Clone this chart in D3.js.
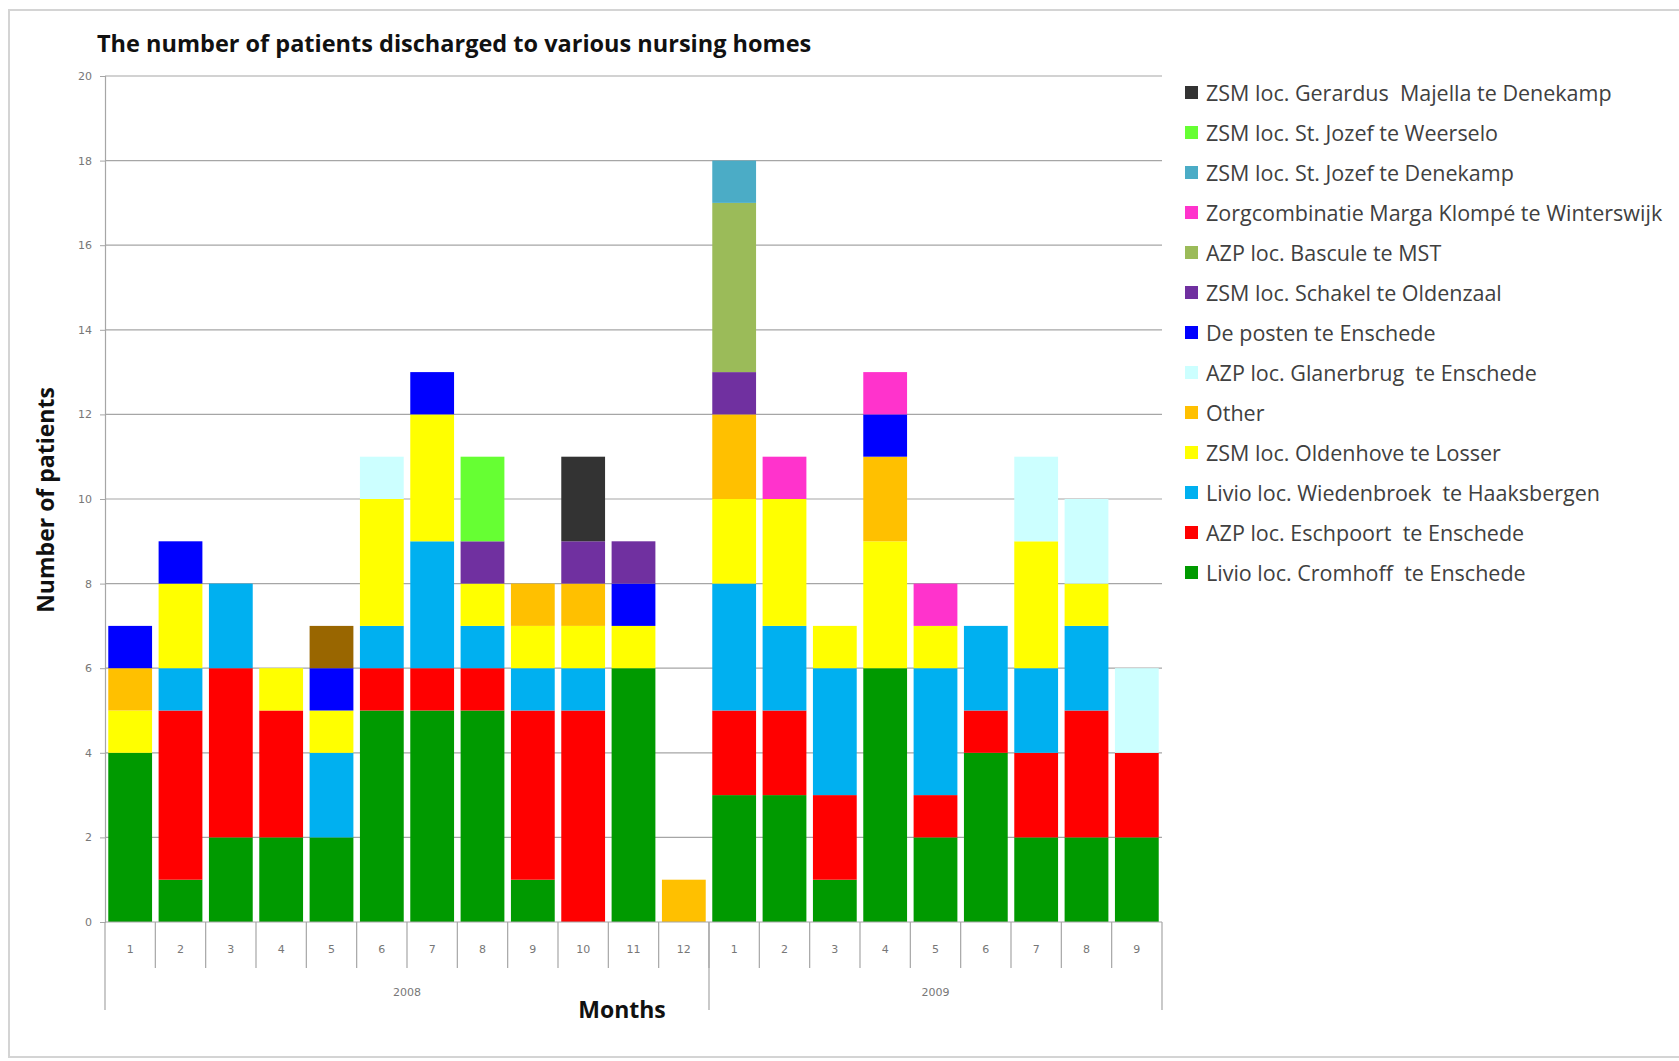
<!DOCTYPE html>
<html>
<head>
<meta charset="utf-8">
<script src="https://cdn.jsdelivr.net/npm/d3@7"></script>
<style>
  body { margin: 0; background: #fff; }
  text { font-family: "Open Sans", Lato, sans-serif; }
</style>
</head>
<body>
<div id="chart"></div>
<script>
// categories (months, grouped by year)
const years = ["2008", "2009"]
const months2008 = ["1","2","3","4","5","6","7","8","9","10","11","12"]
const months2009 = ["1","2","3","4","5","6","7","8","9"]

// series, bottom of the stack first
const seriesNames = [
  "Livio loc. Cromhoff  te Enschede",
  "AZP loc. Eschpoort  te Enschede",
  "Livio loc. Wiedenbroek  te Haaksbergen",
  "ZSM loc. Oldenhove te Losser",
  "Other",
  "AZP loc. Glanerbrug  te Enschede",
  "De posten te Enschede",
  "ZSM loc. Schakel te Oldenzaal",
  "AZP loc. Bascule te MST",
  "Zorgcombinatie Marga Klompé te Winterswijk",
  "ZSM loc. St. Jozef te Denekamp",
  "ZSM loc. St. Jozef te Weerselo",
  "ZSM loc. Gerardus  Majella te Denekamp",
  ""   // unlabelled series (not in legend)
]
const seriesColors = ["#009a00", "#ff0000", "#00b0f0", "#ffff00", "#ffc000", "#ccffff",
  "#0000ff", "#7030a0", "#9bbb59", "#ff33cc", "#4bacc6", "#66ff33", "#333333", "#996600"]

// values per series, 2008 months 1-12 then 2009 months 1-9
const cromhoff    = [4,1,2,2,2,5,5,5,1,0,6,0, 3,3,1,6,2,4,2,2,2]
const eschpoort   = [0,4,4,3,0,1,1,1,4,5,0,0, 2,2,2,0,1,1,2,3,2]
const wiedenbroek = [0,1,2,0,2,1,3,1,1,1,0,0, 3,2,3,0,3,2,2,2,0]
const oldenhove   = [1,2,0,1,1,3,3,1,1,1,1,0, 2,3,1,3,1,0,3,1,0]
const other       = [1,0,0,0,0,0,0,0,1,1,0,1, 2,0,0,2,0,0,0,0,0]
const glanerbrug  = [0,0,0,0,0,1,0,0,0,0,0,0, 0,0,0,0,0,0,2,2,2]
const deposten    = [1,1,0,0,1,0,1,0,0,0,1,0, 0,0,0,1,0,0,0,0,0]
const schakel     = [0,0,0,0,0,0,0,1,0,1,1,0, 1,0,0,0,0,0,0,0,0]
const bascule     = [0,0,0,0,0,0,0,0,0,0,0,0, 4,0,0,0,0,0,0,0,0]
const marga       = [0,0,0,0,0,0,0,0,0,0,0,0, 0,1,0,1,1,0,0,0,0]
const jozefDk     = [0,0,0,0,0,0,0,0,0,0,0,0, 1,0,0,0,0,0,0,0,0]
const jozefWs     = [0,0,0,0,0,0,0,2,0,0,0,0, 0,0,0,0,0,0,0,0,0]
const gerardus    = [0,0,0,0,0,0,0,0,0,2,0,0, 0,0,0,0,0,0,0,0,0]
const unlabelled  = [0,0,0,0,1,0,0,0,0,0,0,0, 0,0,0,0,0,0,0,0,0]

const yTicks = [0,2,4,6,8,10,12,14,16,18,20]

const seriesValues = [cromhoff, eschpoort, wiedenbroek, oldenhove, other, glanerbrug,
  deposten, schakel, bascule, marga, jozefDk, jozefWs, gerardus, unlabelled]

const W = 1679, H = 1061
const plot = { left: 105, right: 1162, top: 76, bottom: 922 }

const cats = months2008.map(m => "2008-" + m).concat(months2009.map(m => "2009-" + m))
const table = cats.map((c, i) => {
  const row = { cat: c }
  seriesValues.forEach((s, j) => { row["s" + j] = s[i] })
  return row
})
const keys = seriesValues.map((s, j) => "s" + j)

const svg = d3.select("#chart").append("svg")
  .attr("width", W).attr("height", H)

// outer frame
svg.append("rect")
  .attr("x", 9).attr("y", 10).attr("width", W + 20).attr("height", 1047)
  .attr("fill", "#fff").attr("stroke", "#d4d4d4").attr("stroke-width", 2)

const x = d3.scaleBand().domain(cats).range([plot.left, plot.right])
  .paddingInner(0.13).paddingOuter(0.065)
const y = d3.scaleLinear().domain([0, 20]).range([plot.bottom, plot.top])
const color = d3.scaleOrdinal().domain(keys).range(seriesColors)

// gridlines
svg.append("g").selectAll("line").data(yTicks.filter(t => t > 0))
  .enter().append("line")
  .attr("x1", plot.left).attr("x2", plot.right)
  .attr("y1", d => y(d)).attr("y2", d => y(d))
  .attr("stroke", "#a6a6a6").attr("stroke-width", 1.2)

// y axis
const yAxis = svg.append("g")
  .attr("transform", "translate(" + plot.left + ",0)")
  .call(d3.axisLeft(y).tickValues(yTicks).tickSize(5).tickPadding(8))
yAxis.select(".domain").attr("stroke", "#a6a6a6").attr("stroke-width", 1.2)
yAxis.selectAll(".tick line").attr("stroke", "#a6a6a6")
yAxis.selectAll("text").attr("fill", "#777").style("font-size", "11px")
  .style("font-family", "'DejaVu Sans'")

// stacked bars
const stack = d3.stack().keys(keys)(table)
svg.append("g").selectAll("g").data(stack)
  .enter().append("g")
    .attr("fill", d => color(d.key))
  .selectAll("rect").data(d => d.filter(p => p[1] > p[0]))
  .enter().append("rect")
    .attr("x", d => x(d.data.cat))
    .attr("width", x.bandwidth())
    .attr("y", d => y(d[1]))
    .attr("height", d => y(d[0]) - y(d[1]))

// x axis: month row and year row
const step = x.step()
const catLeft = i => plot.left + i * step
const xg = svg.append("g")
xg.append("line")
  .attr("x1", plot.left).attr("x2", plot.right)
  .attr("y1", plot.bottom).attr("y2", plot.bottom)
  .attr("stroke", "#a6a6a6").attr("stroke-width", 1.2)
xg.selectAll(".mdiv").data(d3.range(1, cats.length))
  .enter().append("line")
  .attr("x1", catLeft).attr("x2", catLeft)
  .attr("y1", plot.bottom).attr("y2", plot.bottom + 46)
  .attr("stroke", "#a6a6a6").attr("stroke-width", 1.2)
xg.selectAll(".mlab").data(cats)
  .enter().append("text")
  .attr("x", d => x(d) + x.bandwidth() / 2)
  .attr("y", plot.bottom + 31)
  .attr("text-anchor", "middle")
  .attr("fill", "#777").style("font-size", "11px").style("font-family", "'DejaVu Sans'")
  .text(d => d.split("-")[1])

const groups = [
  { year: years[0], from: 0, to: months2008.length },
  { year: years[1], from: months2008.length, to: cats.length }
]
xg.selectAll(".ydiv").data([0, months2008.length, cats.length])
  .enter().append("line")
  .attr("x1", catLeft).attr("x2", catLeft)
  .attr("y1", plot.bottom).attr("y2", plot.bottom + 88)
  .attr("stroke", "#a6a6a6").attr("stroke-width", 1.2)
xg.selectAll(".ylab").data(groups)
  .enter().append("text")
  .attr("x", d => (catLeft(d.from) + catLeft(d.to)) / 2)
  .attr("y", plot.bottom + 74)
  .attr("text-anchor", "middle")
  .attr("fill", "#777").style("font-size", "11px").style("font-family", "'DejaVu Sans'")
  .text(d => d.year)

// titles
svg.append("text")
  .attr("x", 97).attr("y", 52)
  .style("font-size", "23.5px").style("font-weight", "bold").attr("fill", "#111")
  .text("The number of patients discharged to various nursing homes")

svg.append("text")
  .attr("x", 622).attr("y", 1018)
  .attr("text-anchor", "middle")
  .style("font-size", "23px").style("font-weight", "bold").attr("fill", "#111")
  .text("Months")

svg.append("text")
  .attr("transform", "translate(54,500) rotate(-90)")
  .attr("text-anchor", "middle")
  .style("font-size", "23px").style("font-weight", "bold").attr("fill", "#111")
  .text("Number of patients")

// legend, reverse order of the stack, unlabelled series skipped
const legendItems = keys.map((k, j) => ({ key: k, name: seriesNames[j] }))
  .filter(d => d.name !== "").reverse()
const legend = svg.append("g").attr("transform", "translate(1185,93)")
const li = legend.selectAll("g").data(legendItems)
  .enter().append("g")
  .attr("transform", (d, i) => "translate(0," + i * 40 + ")")
li.append("rect")
  .attr("x", 0).attr("y", -7).attr("width", 13).attr("height", 13)
  .attr("fill", d => color(d.key))
li.append("text")
  .attr("x", 21).attr("y", 7.5)
  .style("font-size", "21.5px").attr("fill", "#404040")
  .style("white-space", "pre")
  .text(d => d.name)
</script>
</body>
</html>
